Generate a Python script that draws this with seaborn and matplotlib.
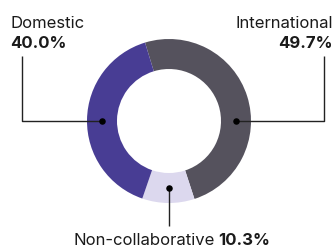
import numpy as np
import matplotlib
matplotlib.use("Agg")
import matplotlib.pyplot as plt
import seaborn as sns

# data, clockwise from the top-left
labels = ["International", "Non-collaborative", "Domestic"]
shares = [49.7, 10.3, 40.0]
colors = ["#55525d", "#dcd8ee", "#483d94"]

sns.set_theme(style="white")
plt.rcParams["font.family"] = ["Inter", "DejaVu Sans"]

W, H = 336, 248
fig = plt.figure(figsize=(W / 100, H / 100), dpi=100)
ax = fig.add_axes([0, 0, 1, 1])

cx, cy = 169, H - 121
r_out, r_in = 82, 52
ax.pie(shares, colors=colors, startangle=107, counterclock=False,
       center=(cx, cy), radius=r_out,
       wedgeprops=dict(width=r_out - r_in, linewidth=0))
ax.set_xlim(0, W)
ax.set_ylim(0, H)
ax.set_aspect("equal")
ax.axis("off")

# leader lines with dots on the middle of the ring
r_mid = (r_out + r_in) / 2
line_kw = dict(color="#222222", lw=1.0, solid_capstyle="butt")
dot_kw = dict(color="black", s=22, zorder=5, linewidths=0)

# International (right)
px, py = cx + r_mid, cy
ax.plot([px, 324, 324], [py, py, H - 56], **line_kw)
ax.scatter([px], [py], **dot_kw)
# Domestic (left)
px, py = cx - r_mid, cy
ax.plot([px, 22, 22], [py, py, H - 56], **line_kw)
ax.scatter([px], [py], **dot_kw)
# Non-collaborative (bottom)
px, py = cx, cy - r_mid
ax.plot([px, px], [py, H - 226], **line_kw)
ax.scatter([px], [py], **dot_kw)

fs = 12
tc = "#1a1a1a"
ax.text(10, H - 28, labels[2], fontsize=fs, color=tc, ha="left", va="baseline")
ax.text(10, H - 48, f"{shares[2]:.1f}%", fontsize=fs, color=tc, fontweight="bold",
        ha="left", va="baseline")
ax.text(333, H - 28, labels[0], fontsize=fs, color=tc, ha="right", va="baseline")
ax.text(333, H - 48, f"{shares[0]:.1f}%", fontsize=fs, color=tc, fontweight="bold",
        ha="right", va="baseline")
ax.text(215, H - 245, labels[1], fontsize=fs, color=tc, ha="right", va="baseline")
ax.text(218, H - 245, f"{shares[1]:.1f}%", fontsize=fs, color=tc, fontweight="bold",
        ha="left", va="baseline")

fig.savefig("out.png", dpi=100, facecolor="white")
